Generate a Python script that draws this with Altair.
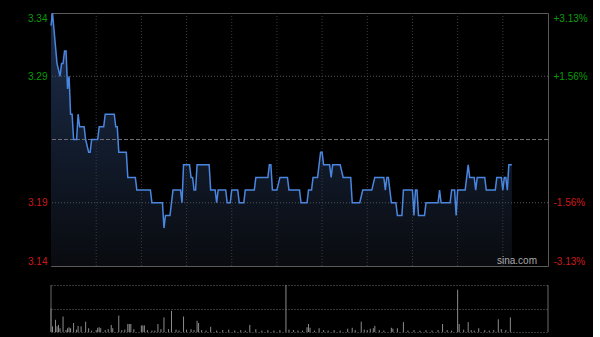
import altair as alt
import pandas as pd

FONT = "Liberation Sans"
GREEN = "#0a9a0a"
RED = "#cc1a1a"

# ---- price series (minute index since open, price) ----
minutes = [0, 1, 4, 6, 7, 8, 9, 10, 11, 12, 13, 14, 15, 17, 18, 19, 22, 23, 25, 26, 27, 31, 32, 35,
           36, 42, 43, 44, 45, 50, 51, 56, 57, 66, 67, 74, 75, 76, 79, 81, 86, 87, 88, 92, 93, 94,
           95, 96, 97, 105, 106, 109, 110, 111, 116, 117, 119, 120, 124, 125, 128, 129, 135, 136,
           144, 145, 146, 147, 150, 152, 157, 158, 165, 166, 170, 171, 173, 174, 177, 179, 180,
           181, 185, 186, 187, 192, 194, 199, 200, 205, 207, 213, 215, 221, 222, 223, 224, 226,
           229, 230, 233, 234, 240, 241, 242, 243, 244, 248, 249, 257, 258, 259, 265, 266, 268,
           269, 270, 275, 277, 278, 281, 282, 283, 288, 289, 295, 296, 299, 300, 301, 302, 303,
           304, 306]
prices = [3.33, 3.34, 3.30, 3.29, 3.30, 3.30, 3.31, 3.31, 3.28, 3.29, 3.26, 3.26, 3.24, 3.24, 3.26,
          3.25, 3.25, 3.24, 3.23, 3.23, 3.24, 3.24, 3.25, 3.25, 3.26, 3.26, 3.25, 3.25, 3.23, 3.23,
          3.21, 3.21, 3.20, 3.20, 3.19, 3.19, 3.17, 3.18, 3.18, 3.20, 3.20, 3.19, 3.22, 3.22, 3.21,
          3.21, 3.20, 3.20, 3.22, 3.22, 3.20, 3.20, 3.19, 3.20, 3.20, 3.19, 3.19, 3.20, 3.20, 3.19,
          3.19, 3.20, 3.20, 3.21, 3.21, 3.22, 3.22, 3.20, 3.20, 3.21, 3.21, 3.20, 3.20, 3.19, 3.19,
          3.20, 3.20, 3.21, 3.21, 3.23, 3.23, 3.22, 3.22, 3.21, 3.22, 3.22, 3.21, 3.21, 3.19, 3.19,
          3.20, 3.20, 3.21, 3.21, 3.20, 3.21, 3.21, 3.19, 3.19, 3.18, 3.18, 3.20, 3.20, 3.18, 3.20,
          3.20, 3.18, 3.18, 3.19, 3.19, 3.20, 3.19, 3.19, 3.20, 3.20, 3.18, 3.20, 3.20, 3.22, 3.21,
          3.21, 3.20, 3.21, 3.21, 3.20, 3.20, 3.21, 3.21, 3.20, 3.21, 3.21, 3.20, 3.22, 3.22]

# ---- volume (relative units) ----
vol_minutes = [0, 1, 3, 4, 5, 6, 8, 10, 11, 12, 13, 15, 17, 18, 20, 23, 25, 27, 30, 31, 32, 33, 36,
               38, 40, 41, 45, 47, 49, 51, 52, 53, 55, 60, 61, 62, 64, 67, 69, 71, 73, 75, 78, 80,
               83, 85, 88, 90, 93, 95, 97, 98, 100, 103, 106, 110, 114, 118, 122, 126, 129, 132,
               136, 140, 144, 148, 152, 156, 158, 161, 164, 167, 170, 171, 172, 175, 178, 181, 184,
               188, 192, 197, 200, 202, 206, 208, 210, 212, 214, 215, 218, 221, 226, 227, 230, 234,
               237, 241, 245, 249, 253, 257, 260, 263, 266, 270, 271, 274, 277, 279, 281, 284, 288,
               291, 294, 297, 299, 302, 305]
vol_values = [50, 12, 26, 12, 15, 8, 33, 4, 8, 10, 8, 19, 5, 13, 12, 22, 8, 3, 4, 9, 10, 8, 4,
              6, 15, 8, 35, 4, 5, 17, 17, 17, 6, 14, 14, 14, 4, 3, 3, 17, 6, 31, 6, 45,
              5, 3, 33, 5, 6, 4, 24, 19, 4, 3, 11, 3, 4, 5, 3, 4, 3, 15,
              6, 3, 4, 3, 4, 100, 5, 4, 3, 3, 10, 17, 9, 3, 8, 4, 3,
              4, 3, 7, 9, 4, 22, 5, 4, 7, 8, 13, 4, 3, 9, 7, 8, 21,
              3, 4, 3, 4, 3, 4, 17, 4, 3, 90, 17, 5, 21, 4, 3, 8, 4,
              3, 4, 27, 6, 4, 31]

grid_minutes = [30, 60, 90, 120, 150, 180, 210, 240, 270, 300]
session_end = 330
price_domain = [3.14, 3.34]
prev_close = 3.24
label_prices = [3.14, 3.19, 3.29, 3.34]
pct_labels = ["-3.13%", "-1.56%", "+1.56%", "+3.13%"]
dotted_prices = [3.19, 3.29]
watermark = ["sina.com"]

W, H, VH = 497, 253, 47

line_df = pd.DataFrame({"m": minutes, "p": prices})
vol_df = pd.DataFrame({"m": vol_minutes, "v": vol_values})

x_scale = alt.Scale(domain=[0, session_end], nice=False, zero=False)


def pscale():
    return alt.Scale(domain=price_domain, nice=False, zero=False)


label_color = {"condition": {"test": f"datum.value > {prev_close}", "value": GREEN}, "value": RED}

left_axis = alt.Axis(orient="left", values=label_prices, format=".2f", grid=False, ticks=False,
                     tickSize=0, domain=False, labelFlush=True, labelPadding=4, title=None,
                     labelColor=label_color, labelFont=FONT, labelFontSize=10)

# label expression built from the arrays
expr = f"'{pct_labels[-1]}'"
for lp, lab in reversed(list(zip(label_prices[:-1], pct_labels[:-1]))):
    expr = f"datum.value < {lp + 0.005:.3f} ? '{lab}' : ({expr})"

right_axis = alt.Axis(orient="right", values=label_prices, labelExpr=expr, grid=False, ticks=False,
                      tickSize=0, domain=False, labelFlush=True, labelPadding=5, title=None,
                      labelColor=label_color, labelFont=FONT, labelFontSize=10)

grad = alt.Gradient(gradient="linear",
                    stops=[alt.GradientStop(color="#1c2e4e", offset=0),
                           alt.GradientStop(color="#090b0f", offset=1)],
                    x1=0, x2=0, y1=0, y2=1)

area = alt.Chart(line_df).mark_area(color=grad).encode(
    x=alt.X("m:Q", scale=x_scale, axis=None),
    y=alt.Y("p:Q", scale=pscale(), axis=left_axis),
    y2=alt.datum(price_domain[0]),
)
vgrid = alt.Chart(pd.DataFrame({"g": grid_minutes})).mark_rule(
    color="#3c3c3c", strokeDash=[1, 2], strokeWidth=1).encode(
    x=alt.X("g:Q", scale=x_scale, axis=None))
g1 = alt.layer(area, vgrid)

hgrid = alt.Chart(pd.DataFrame({"gp": dotted_prices})).mark_rule(
    color="#555555", strokeDash=[1, 2], strokeWidth=1).encode(
    y=alt.Y("gp:Q", scale=pscale(), axis=right_axis))
hmid = alt.Chart(pd.DataFrame({"gp": [prev_close]})).mark_rule(
    color="#6e6e6e", strokeDash=[4, 2], strokeWidth=1).encode(
    y=alt.Y("gp:Q", scale=pscale(), axis=right_axis))
g2 = alt.layer(hgrid, hmid)

line = alt.Chart(line_df).mark_line(color="#4a86e0", strokeWidth=1.5).encode(
    x=alt.X("m:Q", scale=x_scale, axis=None),
    y=alt.Y("p:Q", scale=pscale(), axis=None),
)

sina = alt.Chart(pd.DataFrame({"t": watermark})).mark_text(
    align="right", baseline="middle", color="#aaaaaa", fontSize=10, font=FONT).encode(
    x=alt.value(486), y=alt.value(248), text="t:N")

top = alt.layer(g1, g2, line, sina).resolve_scale(y="independent").properties(
    width=W, height=H, view=alt.ViewBackground(stroke="#5a5a5a", strokeWidth=1))

bars = alt.Chart(vol_df).mark_rule(color="#8c8c8c", strokeWidth=1).encode(
    x=alt.X("m:Q", scale=x_scale, axis=None),
    y=alt.Y("v:Q", scale=alt.Scale(domain=[0, 100], nice=False),
            axis=alt.Axis(values=[0, 50, 100], grid=True, gridColor="#6a6a6a", gridDash=[1, 2],
                          labels=False, ticks=False, domain=False, title=None)),
    y2=alt.datum(0),
)
border_df = pd.DataFrame({"b": [0, session_end]})
borders = alt.Chart(border_df).mark_rule(color="#6a6a6a", strokeWidth=1).encode(
    x=alt.X("b:Q", scale=x_scale, axis=None))
vol = alt.layer(bars, borders).properties(width=W, height=VH,
                                          view=alt.ViewBackground(stroke="transparent"))

chart = alt.vconcat(top, vol, spacing=17).configure(
    background="#000000",
    padding={"left": 27, "top": 9, "right": 5, "bottom": 4},
).configure_view(stroke="transparent")

chart.save("out.html", embed_options={"renderer": "svg", "actions": False})
